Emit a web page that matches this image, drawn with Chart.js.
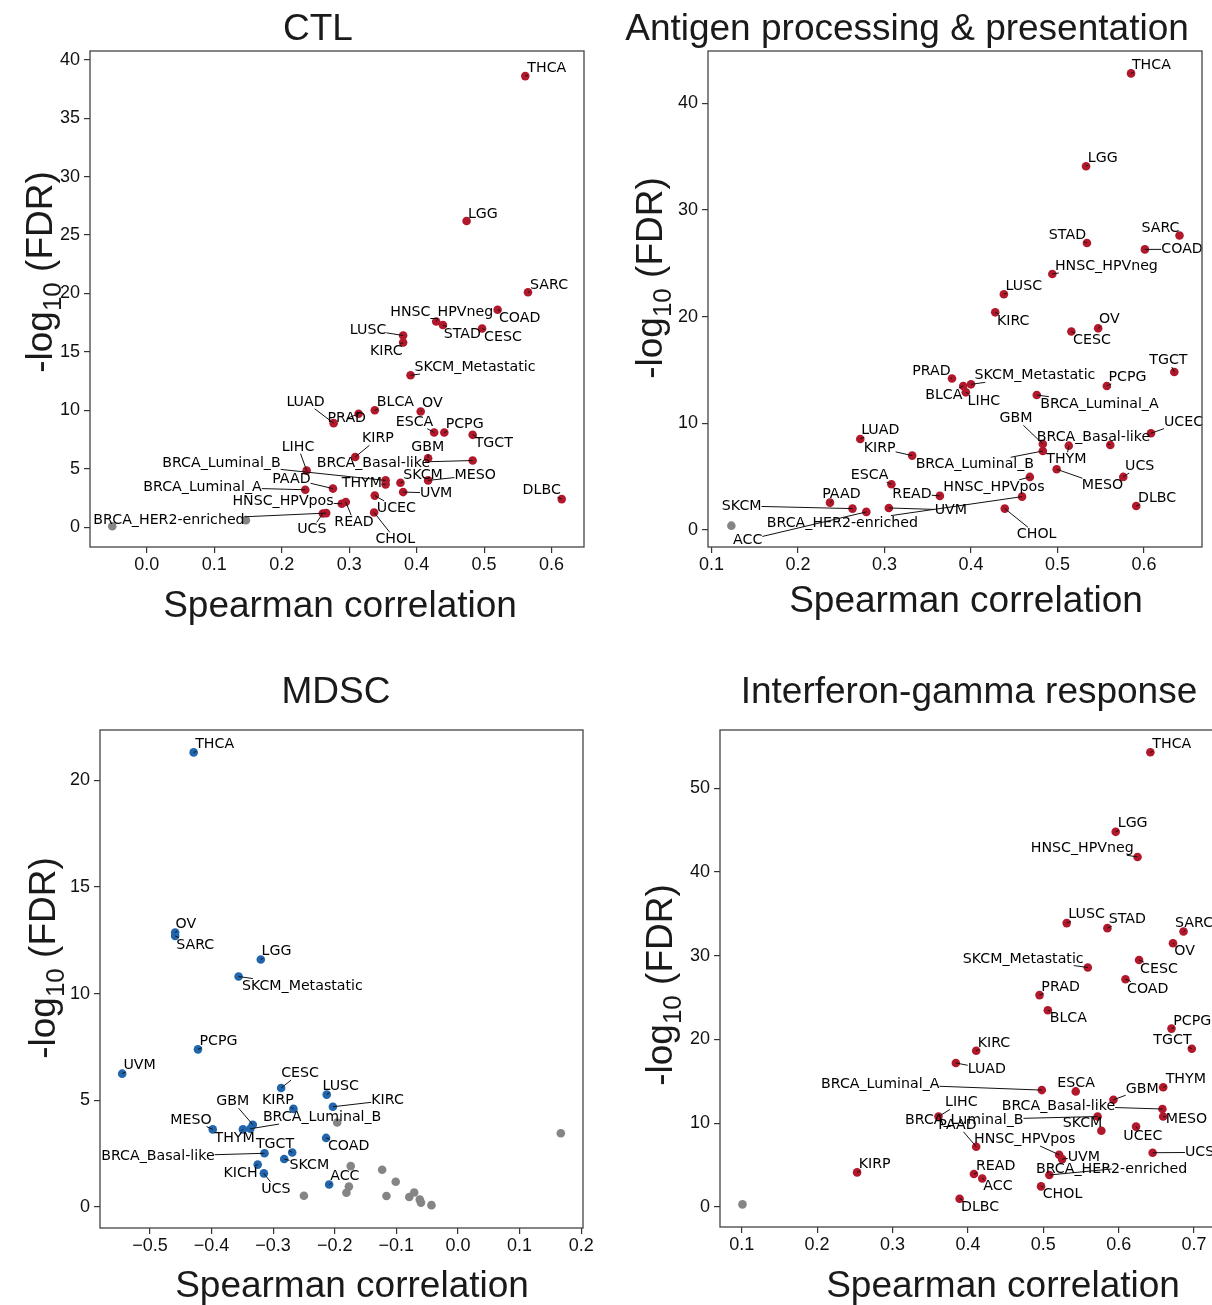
<!DOCTYPE html>
<html lang="en">
<head>
<meta charset="UTF-8">
<title>Immune signatures vs. Spearman correlation</title>
<script src="https://cdn.jsdelivr.net/npm/chart.js"></script>
<style>
  html, body { margin: 0; padding: 0; background: #fff; overflow: hidden; }
  body { width: 1212px; height: 1305px; position: relative; }
  canvas { position: absolute; }
</style>
</head>
<body>
<canvas id="ctl" width="606" height="650" style="left:0;top:0"></canvas>
<canvas id="apc" width="606" height="650" style="left:606px;top:0"></canvas>
<canvas id="mdsc" width="606" height="655" style="left:0;top:650px"></canvas>
<canvas id="ifng" width="634" height="655" style="left:606px;top:650px"></canvas>
<script>
// ---- CTL ----
const ctlNames = ['THCA','LGG','SARC','COAD','HNSC_HPVneg','STAD','CESC','LUSC','KIRC','SKCM_Metastatic',
  'BLCA','OV','PRAD','LUAD','ESCA','PCPG','TGCT','KIRP','GBM','BRCA_Basal-like','LIHC','BRCA_Luminal_B',
  'THYM','SKCM','MESO','PAAD','BRCA_Luminal_A','UVM','UCEC','HNSC_HPVpos','READ','DLBC','CHOL','UCS','BRCA_HER2-enriched'];
const ctlRho = [0.561,0.474,0.565,0.520,0.429,0.439,0.497,0.380,0.380,0.391,
  0.338,0.406,0.314,0.277,0.426,0.441,0.483,0.309,0.417,0.483,0.237,0.354,
  0.354,0.376,0.417,0.276,0.235,0.380,0.338,0.289,0.295,0.615,0.337,0.261,0.266];
const ctlFdr = [38.6,26.2,20.1,18.6,17.6,17.3,17.0,16.4,15.8,13.0,
  10.0,9.9,9.7,8.9,8.1,8.1,7.9,6.0,5.9,5.7,4.85,4.0,
  3.66,3.8,4.0,3.3,3.2,3.0,2.7,2.0,2.15,2.4,1.25,1.17,1.2];
// where adjustText left each label (data units, text left / baseline)
const ctlTextRho = [0.564,0.476,0.568,0.522,0.361,0.440,0.500,0.301,0.331,0.397,
  0.341,0.408,0.268,0.207,0.369,0.443,0.486,0.319,0.392,0.252,0.200,0.023,
  0.289,0.380,0.456,0.186,-0.005,0.405,0.341,0.127,0.278,0.557,0.339,0.223,-0.079];
const ctlTextFdr = [38.95,26.5,20.4,17.56,18.07,16.2,15.97,16.54,14.72,13.36,
  10.38,10.24,8.96,10.38,8.68,8.45,6.83,7.26,6.5,5.13,6.55,5.13,
  3.43,4.09,4.09,3.8,3.09,2.58,1.3,1.87,0.085,2.81,-1.39,-0.54,0.255];
const ctlNsRho = [-0.051, 0.147];
const ctlNsFdr = [0.08, 0.6];
const ctlXTicks = [0.0,0.1,0.2,0.3,0.4,0.5,0.6];
const ctlYTicks = [0,5,10,15,20,25,30,35,40];

// ---- Antigen processing & presentation ----
const apcNames = ['THCA','LGG','SARC','STAD','COAD','HNSC_HPVneg','LUSC','KIRC','OV','CESC',
  'TGCT','PRAD','SKCM_Metastatic','BLCA','PCPG','LIHC','BRCA_Luminal_A','UCEC','LUAD','GBM',
  'BRCA_Basal-like','THYM','BRCA_Luminal_B','KIRP','MESO','UCS','HNSC_HPVpos','ESCA','READ',
  'BRCA_HER2-enriched','PAAD','DLBC','UVM','CHOL','SKCM','ACC'];
const apcRho = [0.585,0.533,0.641,0.534,0.601,0.494,0.438,0.428,0.547,0.516,
  0.635,0.378,0.400,0.391,0.557,0.394,0.476,0.608,0.272,0.483,
  0.561,0.513,0.483,0.332,0.499,0.576,0.468,0.308,0.364,
  0.459,0.237,0.591,0.305,0.439,0.263,0.279];
const apcFdr = [42.8,34.1,27.6,26.9,26.3,24.0,22.1,20.4,18.9,18.6,
  14.8,14.2,13.65,13.5,13.5,12.9,12.65,9.06,8.53,8.06,
  7.97,7.9,7.4,6.97,5.69,4.97,4.97,4.28,3.19,
  3.12,2.56,2.25,2.06,2.0,2.0,1.69];
const apcTextRho = [0.586,0.535,0.597,0.490,0.620,0.497,0.440,0.430,0.548,0.518,
  0.606,0.332,0.404,0.347,0.559,0.396,0.480,0.623,0.273,0.433,
  0.476,0.487,0.336,0.276,0.528,0.578,0.368,0.261,0.309,
  0.164,0.228,0.593,0.358,0.453,0.112,0.125];
const apcTextFdr = [43.18,34.49,27.93,27.3,25.93,24.37,22.49,19.21,19.37,17.43,
  15.56,14.53,14.12,12.28,13.96,11.72,11.46,9.78,8.97,10.09,
  8.37,6.25,5.78,7.28,3.81,5.62,3.66,4.75,3.03,
  0.31,3.03,2.65,1.5,-0.78,1.87,-1.31];
const apcNsRho = [0.123];
const apcNsFdr = [0.4];
const apcXTicks = [0.1,0.2,0.3,0.4,0.5,0.6];
const apcYTicks = [0,10,20,30,40];

// ---- MDSC ----
const mdscNames = ['THCA','OV','SARC','LGG','SKCM_Metastatic','PCPG','UVM','CESC','LUSC','KIRC',
  'KIRP','GBM','BRCA_Luminal_B','THYM','MESO','COAD','TGCT','BRCA_Basal-like','SKCM','KICH','UCS','ACC'];
const mdscRho = [-0.429,-0.459,-0.459,-0.320,-0.356,-0.422,-0.545,-0.287,-0.213,-0.203,
  -0.267,-0.333,-0.337,-0.349,-0.398,-0.214,-0.269,-0.314,-0.282,-0.325,-0.315,-0.209];
const mdscFdr = [21.3,12.86,12.7,11.6,10.8,7.39,6.25,5.58,5.27,4.7,
  4.6,3.86,3.67,3.64,3.64,3.24,2.56,2.52,2.25,1.99,1.58,1.06];
const mdscTextRho = [-0.4265,-0.4584,-0.4573,-0.3188,-0.3507,-0.4195,-0.5429,-0.2869,-0.2198,-0.1407,
  -0.3182,-0.3924,-0.3166,-0.3951,-0.467,-0.211,-0.3279,-0.5791,-0.2734,-0.3805,-0.3193,-0.2073];
const mdscTextFdr = [21.49,13.08,12.11,11.8,10.19,7.61,6.47,6.09,5.5,4.81,
  4.81,4.77,4.03,3.05,3.91,2.66,2.78,2.19,1.77,1.41,0.67,1.25];
const mdscNsRho = [-0.196,0.167,-0.174,-0.123,-0.101,-0.177,-0.181,-0.250,-0.116,-0.079,-0.071,-0.062,-0.060,-0.043];
const mdscNsFdr = [3.96,3.46,1.92,1.75,1.19,0.96,0.67,0.53,0.52,0.47,0.68,0.35,0.21,0.09];
const mdscXTicks = [-0.5,-0.4,-0.3,-0.2,-0.1,0.0,0.1,0.2];
const mdscYTicks = [0,5,10,15,20];

// ---- Interferon-gamma response ----
const ifngNames = ['THCA','LGG','HNSC_HPVneg','LUSC','STAD','SARC','OV','CESC','SKCM_Metastatic','COAD',
  'PRAD','BLCA','PCPG','TGCT','KIRC','LUAD','THYM','BRCA_Luminal_A','ESCA','GBM',
  'BRCA_Basal-like','MESO','LIHC','BRCA_Luminal_B','PAAD','SKCM','UCEC','HNSC_HPVpos','UVM','UCS',
  'KIRP','READ','BRCA_HER2-enriched','ACC','CHOL','DLBC'];
const ifngRho = [0.642,0.596,0.625,0.531,0.585,0.686,0.672,0.627,0.559,0.609,
  0.495,0.506,0.670,0.697,0.411,0.384,0.659,0.498,0.543,0.593,
  0.658,0.659,0.361,0.572,0.411,0.577,0.623,0.521,0.525,0.645,
  0.253,0.408,0.508,0.419,0.497,0.389];
const ifngFdr = [54.3,44.8,41.8,33.9,33.3,32.9,31.5,29.5,28.6,27.2,
  25.3,23.5,21.3,18.9,18.65,17.2,14.3,13.96,13.8,12.8,
  11.7,10.8,10.8,10.8,7.2,9.1,9.6,6.24,5.72,6.48,
  4.13,3.94,3.82,3.41,2.46,0.99];
const ifngTextRho = [0.6446,0.5987,0.4833,0.5332,0.5867,0.6747,0.6737,0.6283,0.3931,0.611,
  0.4974,0.5085,0.6724,0.6459,0.413,0.3997,0.6623,0.2052,0.5186,0.6093,
  0.4448,0.6623,0.3696,0.3166,0.3608,0.5257,0.6061,0.4081,0.5324,0.6879,
  0.2552,0.4107,0.4903,0.4204,0.4992,0.3909];
const ifngTextFdr = [54.77,45.35,42.36,34.49,33.89,33.41,30.11,27.92,29.19,25.61,
  25.85,22.08,21.79,19.45,19.16,15.99,14.8,14.2,14.32,13.6,
  11.61,10.02,12.0,9.94,9.34,9.5,8.03,7.64,5.53,6.04,
  4.65,4.45,4.06,1.98,1.07,-0.44];
const ifngNsRho = [0.101];
const ifngNsFdr = [0.31];
const ifngXTicks = [0.1,0.2,0.3,0.4,0.5,0.6,0.7];
const ifngYTicks = [0,10,20,30,40,50];

const RED = '#b2182b', BLUE = '#2166ac', GREY = '#858585';
const TICK_FONT = { family: 'Liberation Sans', size: 18 };
const BIG = '37px "Liberation Sans"';

function zip(xs, ys) { return xs.map((x, i) => ({ x: x, y: ys[i] })); }
function fmtX(v) { const s = Math.abs(v).toFixed(1); return v < -1e-9 ? '\u2212' + s : s; }

// box around the plot area
const framePlugin = {
  id: 'frame',
  afterDraw(chart) {
    const a = chart.chartArea, ctx = chart.ctx;
    ctx.save();
    ctx.strokeStyle = '#444';
    ctx.lineWidth = 1.3;
    ctx.strokeRect(a.left, a.top, a.right - a.left, a.bottom - a.top);
    ctx.restore();
  }
};

// text labels with leader lines
const labelPlugin = {
  id: 'pointLabels',
  afterDatasetsDraw(chart, args, opts) {
    if (!opts.names) return;
    const ctx = chart.ctx, xs = chart.scales.x, ys = chart.scales.y;
    ctx.save();
    ctx.font = '14.2px "DejaVu Sans"';
    ctx.textBaseline = 'alphabetic';
    ctx.textAlign = 'left';
    opts.names.forEach((name, i) => {
      const px = xs.getPixelForValue(opts.x[i]), py = ys.getPixelForValue(opts.y[i]);
      const tx = xs.getPixelForValue(opts.tx[i]), ty = ys.getPixelForValue(opts.ty[i]);
      const w = ctx.measureText(name).width;
      const L = tx, R = tx + w, T = ty - 11, B = ty + 3;
      const cx = (L + R) / 2, cy = (T + B) / 2;
      let sx = cx, sy = cy;
      const inside = px >= L && px <= R && py >= T && py <= B;
      if (!inside) {
        const dx = px - cx, dy = py - cy;
        let t = 1;
        if (dx !== 0) t = Math.min(t, Math.abs((w / 2) / dx));
        if (dy !== 0) t = Math.min(t, Math.abs(((B - T) / 2) / dy));
        sx = cx + dx * t; sy = cy + dy * t;
      }
      if (Math.hypot(px - sx, py - sy) > 1.5) {
        ctx.strokeStyle = '#111';
        ctx.lineWidth = 1;
        ctx.beginPath();
        ctx.moveTo(sx, sy);
        ctx.lineTo(px, py);
        ctx.stroke();
      }
      ctx.fillStyle = '#000';
      ctx.fillText(name, tx, ty);
    });
    ctx.restore();
  }
};

// title, x label, y label (-log10 (FDR))
const decorPlugin = {
  id: 'decor',
  afterDraw(chart, args, o) {
    const ctx = chart.ctx;
    ctx.save();
    ctx.fillStyle = '#1a1a1a';
    ctx.font = BIG;
    ctx.textAlign = 'center';
    ctx.textBaseline = 'alphabetic';
    ctx.fillText(o.title, o.titleX, o.titleY);
    ctx.fillText('Spearman correlation', o.xlabX, o.xlabY);
    ctx.translate(o.ylabX, o.ylabY);
    ctx.rotate(-Math.PI / 2);
    ctx.textAlign = 'left';
    const subFont = '26px "Liberation Sans"';
    const w1 = ctx.measureText('-log').width;
    ctx.font = subFont;
    const w2 = ctx.measureText('10').width;
    ctx.font = BIG;
    const w3 = ctx.measureText(' (FDR)').width;
    let s = -(w1 + w2 + w3) / 2;
    ctx.fillText('-log', s, 0);
    ctx.font = subFont;
    ctx.fillText('10', s + w1, 9);
    ctx.font = BIG;
    ctx.fillText(' (FDR)', s + w1 + w2, 0);
    ctx.restore();
  }
};

function makePanel(id, p) {
  const ctx = document.getElementById(id).getContext('2d');
  const datasets = [
    { data: zip(p.nsX, p.nsY), backgroundColor: GREY, pointRadius: 4.3, pointBorderWidth: 0 },
    { data: zip(p.x, p.y), backgroundColor: p.color, pointRadius: 4.3, pointBorderWidth: 0 }
  ];
  const axis = (ticks, fmt, pad, extra) => Object.assign({
    type: 'linear',
    afterBuildTicks: s => { s.ticks = ticks.map(v => ({ value: v })); },
    ticks: { autoSkip: false, maxRotation: 0, font: TICK_FONT, color: '#111', padding: pad, callback: fmt },
    grid: { display: true, drawOnChartArea: false, drawTicks: true, tickLength: 6, color: '#333', lineWidth: 1.2 },
    border: { display: false }
  }, extra);
  return new Chart(ctx, {
    type: 'scatter',
    data: { datasets: datasets },
    options: {
      responsive: false,
      animation: false,
      events: [],
      layout: { padding: { left: 0, top: p.area.top, right: p.area.right, bottom: 0 } },
      scales: {
        x: axis(p.xTicks, v => fmtX(v), 1, { min: p.xMin, max: p.xMax, afterFit: s => { s.height = p.area.bottom; } }),
        y: axis(p.yTicks, v => String(Math.round(v)), 4, { min: p.yMin, max: p.yMax, afterFit: s => { s.width = p.area.left; } })
      },
      plugins: {
        legend: { display: false },
        tooltip: { enabled: false },
        pointLabels: { names: p.names, x: p.x, y: p.y, tx: p.tx, ty: p.ty },
        decor: p.decor
      }
    },
    plugins: [framePlugin, labelPlugin, decorPlugin]
  });
}

makePanel('ctl', {
  names: ctlNames, x: ctlRho, y: ctlFdr, tx: ctlTextRho, ty: ctlTextFdr,
  nsX: ctlNsRho, nsY: ctlNsFdr, color: RED, xTicks: ctlXTicks, yTicks: ctlYTicks,
  xMin: -0.084, xMax: 0.648, yMin: -1.7, yMax: 40.75,
  area: { left: 90, top: 51, right: 22, bottom: 103 },
  decor: { title: 'CTL', titleX: 318, titleY: 40, xlabX: 340, xlabY: 617, ylabX: 52, ylabY: 272 }
});
makePanel('apc', {
  names: apcNames, x: apcRho, y: apcFdr, tx: apcTextRho, ty: apcTextFdr,
  nsX: apcNsRho, nsY: apcNsFdr, color: RED, xTicks: apcXTicks, yTicks: apcYTicks,
  xMin: 0.096, xMax: 0.667, yMin: -1.6, yMax: 44.9,
  area: { left: 102, top: 51, right: 10, bottom: 103 },
  decor: { title: 'Antigen processing & presentation', titleX: 301, titleY: 40, xlabX: 360, xlabY: 612, ylabX: 56, ylabY: 278 }
});
makePanel('mdsc', {
  names: mdscNames, x: mdscRho, y: mdscFdr, tx: mdscTextRho, ty: mdscTextFdr,
  nsX: mdscNsRho, nsY: mdscNsFdr, color: BLUE, xTicks: mdscXTicks, yTicks: mdscYTicks,
  xMin: -0.581, xMax: 0.203, yMin: -0.98, yMax: 22.35,
  area: { left: 100, top: 80, right: 23, bottom: 77 },
  decor: { title: 'MDSC', titleX: 336, titleY: 53, xlabX: 352, xlabY: 647, ylabX: 55, ylabY: 308 }
});
makePanel('ifng', {
  names: ifngNames, x: ifngRho, y: ifngFdr, tx: ifngTextRho, ty: ifngTextFdr,
  nsX: ifngNsRho, nsY: ifngNsFdr, color: RED, xTicks: ifngXTicks, yTicks: ifngYTicks,
  xMin: 0.0712, xMax: 0.7317, yMin: -2.39, yMax: 56.96,
  area: { left: 114, top: 80, right: 22, bottom: 78 },
  decor: { title: 'Interferon-gamma response', titleX: 363, titleY: 53, xlabX: 397, xlabY: 647, ylabX: 66, ylabY: 335 }
});
</script>
</body>
</html>
